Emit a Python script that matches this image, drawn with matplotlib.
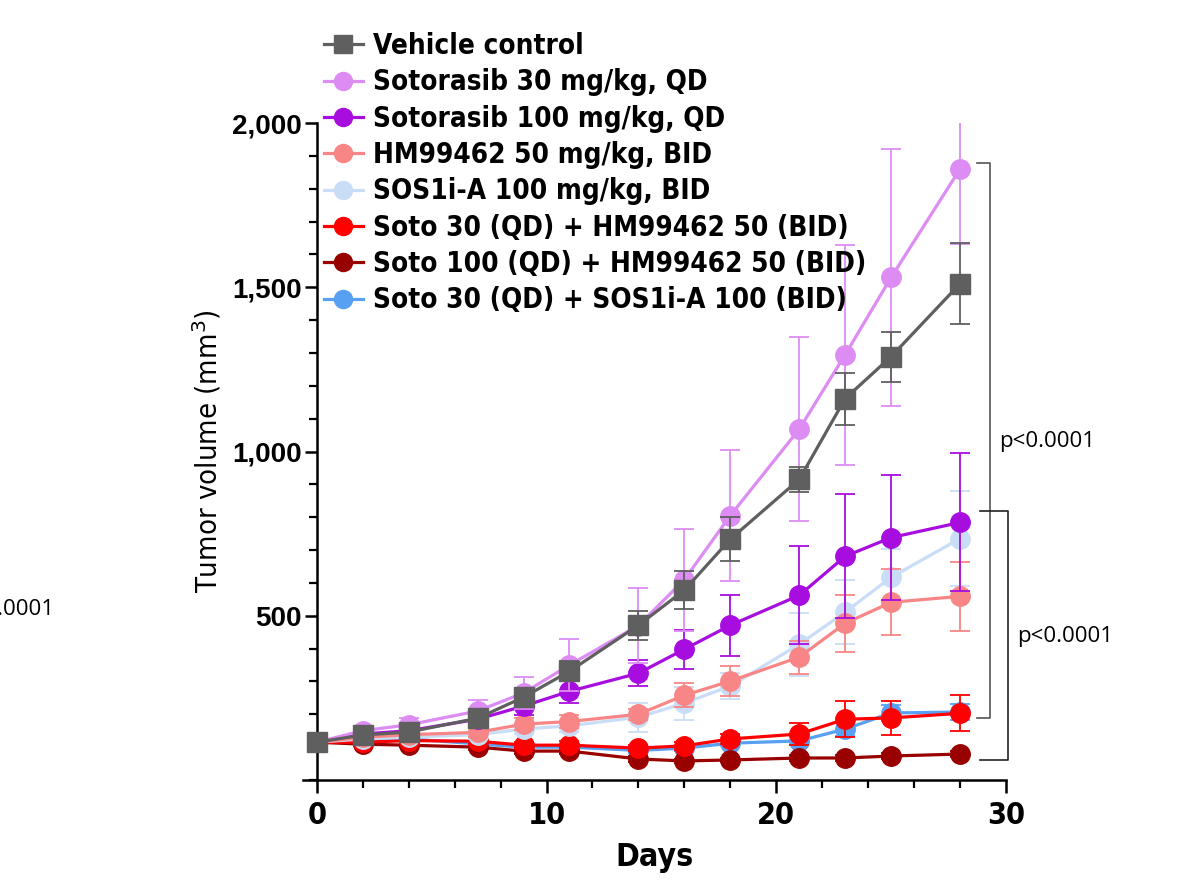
import matplotlib
matplotlib.use("Agg")
import matplotlib.pyplot as plt
from matplotlib import font_manager
from matplotlib.ticker import MultipleLocator

# tumor volume (mm3), mean and SEM
days = [0, 2, 4, 7, 9, 11, 14, 16, 18, 21, 23, 25, 28]

vehicle = [115, 137, 146, 188, 252, 331, 471, 578, 733, 915, 1161, 1289, 1511]
vehicle_err = [8, 12, 14, 18, 25, 30, 44, 57, 67, 39, 79, 76, 123]

soto30 = [115, 150, 168, 210, 265, 350, 470, 610, 805, 1068, 1295, 1530, 1860]
soto30_err = [8, 15, 20, 35, 50, 80, 115, 155, 200, 280, 335, 390, 228]

soto100 = [115, 140, 150, 185, 225, 270, 325, 398, 471, 562, 681, 738, 784]
soto100_err = [8, 12, 15, 20, 28, 35, 40, 60, 93, 149, 189, 190, 210]

hm = [115, 130, 138, 145, 170, 178, 200, 258, 301, 374, 477, 541, 559]
hm_err = [8, 10, 12, 15, 18, 20, 17, 37, 45, 50, 87, 100, 106]

sos = [115, 125, 130, 138, 155, 165, 191, 234, 286, 413, 511, 617, 735]
sos_err = [8, 10, 10, 12, 15, 18, 44, 50, 40, 95, 97, 85, 145]

soto30_hm = [115, 115, 120, 118, 106, 106, 97, 104, 125, 140, 185, 189, 203]
soto30_hm_err = [5, 8, 8, 10, 10, 12, 10, 12, 15, 33, 55, 53, 55]

soto100_hm = [115, 109, 106, 100, 88, 88, 64, 58, 61, 67, 67, 73, 79]
soto100_hm_err = [5, 6, 6, 8, 8, 8, 8, 6, 6, 8, 8, 8, 8]

soto30_sos = [115, 120, 125, 110, 100, 100, 90, 97, 112, 119, 155, 204, 207]
soto30_sos_err = [5, 6, 6, 8, 8, 8, 8, 8, 10, 12, 20, 25, 25]

labels = ["Vehicle control", "Sotorasib 30 mg/kg, QD", "Sotorasib 100 mg/kg, QD",
          "HM99462 50 mg/kg, BID", "SOS1i-A 100 mg/kg, BID",
          "Soto 30 (QD) + HM99462 50 (BID)", "Soto 100 (QD) + HM99462 50 (BID)",
          "Soto 30 (QD) + SOS1i-A 100 (BID)"]
colors = ["#5f5f5f", "#dd8cf4", "#a80ddf", "#f98686", "#c9ddf6",
          "#ff0000", "#990000", "#58a0f2"]
markers = ["s", "o", "o", "o", "o", "o", "o", "o"]
zorders = [9, 8, 7, 6, 5, 4, 3, 2.5]

y_ticks = [500, 1000, 1500, 2000]
x_ticks = [0, 10, 20, 30]

# significance brackets (x in days, y in mm3)
bracket1 = dict(x=29.3, x0=28.75, y_top=1878, y_bot=188, label_y=1030)
bracket2 = dict(x=30.1, x0=28.85, y_top=818, y_bot=61, label_y=438)

names = {f.name for f in font_manager.fontManager.ttflist}
narrow = "Liberation Sans Narrow" if "Liberation Sans Narrow" in names else "DejaVu Sans"
cond = "normal" if narrow == "Liberation Sans Narrow" else "condensed"

fig = plt.figure(figsize=(11.78, 8.86), dpi=100)
ax = fig.add_axes([303 / 1178, 1 - 780 / 886, (1006 - 303) / 1178, (780 - 123) / 886])

series = [vehicle, soto30, soto100, hm, sos, soto30_hm, soto100_hm, soto30_sos]
errs = [vehicle_err, soto30_err, soto100_err, hm_err, sos_err,
        soto30_hm_err, soto100_hm_err, soto30_sos_err]

handles = []
for y, e, c, m, z, lab in zip(series, errs, colors, markers, zorders, labels):
    ax.errorbar(days, y, yerr=e, fmt="none", ecolor=c, elinewidth=1.3,
                capsize=7, capthick=1.3, zorder=z)
    h, = ax.plot(days, y, color=c, lw=2.3, marker=m,
                 markersize=14, zorder=z + 0.1, label=lab)
    handles.append(h)

ax.set_xlim(-0.6, 30)
ax.set_ylim(0, 2000)
ax.spines["left"].set_position(("data", 0))
ax.spines["top"].set_visible(False)
ax.spines["right"].set_visible(False)
for s in ("left", "bottom"):
    ax.spines[s].set_linewidth(1.8)

ax.set_xticks(x_ticks, [str(v) for v in x_ticks], fontfamily=narrow,
              fontweight="bold", fontstretch=cond, fontsize=22)
ax.set_yticks(y_ticks, [f"{v:,}" for v in y_ticks], fontfamily="Liberation Sans",
              fontweight="bold", fontsize=20)
ax.xaxis.set_minor_locator(MultipleLocator(2))
ax.yaxis.set_minor_locator(MultipleLocator(100))
ax.tick_params(which="major", length=9, width=1.8)
ax.tick_params(which="minor", length=6, width=1.6)
ax.tick_params(axis="x", which="major", pad=6)
ax.tick_params(axis="y", which="major", pad=2)

ax.set_xlabel("Days", family=narrow, fontweight="bold", fontstretch=cond,
              fontsize=23, labelpad=9)
ax.set_ylabel("Tumor volume (mm$^3$)", family=narrow, fontstretch=cond,
              fontsize=21, labelpad=6)

# brackets and p values
for b, col in ((bracket1, "#555555"), (bracket2, "#222222")):
    ax.plot([b["x0"], b["x"], b["x"], b["x0"]],
            [b["y_top"], b["y_top"], b["y_bot"], b["y_bot"]],
            color=col, lw=1.2, clip_on=False)
    ax.text(b["x"] + 0.4, b["label_y"], "p<0.0001", fontsize=16,
            family="Open Sans", va="center", ha="left")

# partly cropped label at the left edge, as in the source figure
fig.text(54 / 1178, 1 - 610 / 886, "p<0.0001", fontsize=16, family="Open Sans",
         ha="right", va="center")

leg = fig.legend(handles=handles, loc="upper left", bbox_to_anchor=(324 / 1178, 1 - 32 / 886),
                 frameon=False, handlelength=1.4, handletextpad=0.35, labelspacing=0.3,
                 borderaxespad=0, borderpad=0,
                 prop=dict(family=narrow, weight="bold", size=20, stretch=cond))
for lh in leg.legend_handles:
    lh.set_markersize(13)

fig.savefig("out.png", dpi=100)
